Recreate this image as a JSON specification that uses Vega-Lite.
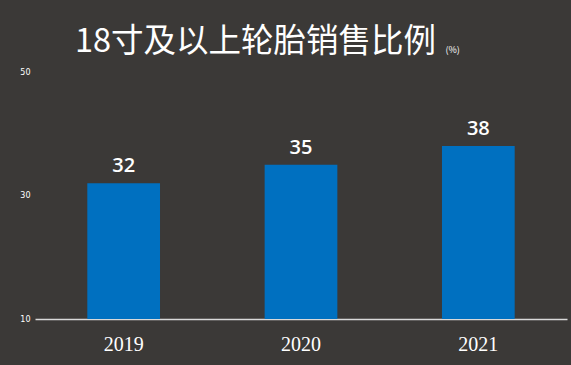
{
  "$schema": "https://vega.github.io/schema/vega-lite/v6.json",
  "autosize": {"type": "none"},
  "width": 532,
  "height": 247,
  "padding": {"left": 35, "top": 72, "right": 4, "bottom": 46},
  "background": "#3b3937",
  "title": {
    "text": "18寸及以上轮胎销售比例",
    "anchor": "start",
    "frame": "group",
    "dx": 40,
    "offset": -13,
    "font": "Noto Sans CJK SC",
    "fontSize": 32.5,
    "fontWeight": "normal",
    "color": "#ffffff"
  },
  "data": {
    "values": [
      {"year": "2019", "value": 32},
      {"year": "2020", "value": 35},
      {"year": "2021", "value": 38}
    ]
  },
  "encoding": {
    "x": {
      "field": "year",
      "type": "nominal",
      "sort": null,
      "scale": {"paddingInner": 0.59, "paddingOuter": 0.295},
      "axis": {
        "title": null,
        "labelAngle": 0,
        "ticks": false,
        "domain": true,
        "domainColor": "#d9d9d9",
        "domainWidth": 1.5,
        "labelFont": "Liberation Serif",
        "labelFontSize": 20,
        "labelColor": "#ffffff",
        "labelPadding": 15
      }
    },
    "y": {
      "field": "value",
      "type": "quantitative",
      "scale": {"domain": [10, 50], "zero": false, "nice": false},
      "axis": {
        "title": "(%)",
        "titleAngle": 0,
        "titleX": 410,
        "titleY": -20,
        "titleAlign": "left",
        "titleBaseline": "alphabetic",
        "titleFont": "Noto Sans CJK SC",
        "titleFontSize": 9,
        "titleFontWeight": "normal",
        "titleColor": "#ffffff",
        "values": [10, 30, 50],
        "ticks": false,
        "domain": false,
        "grid": false,
        "labelFont": "DejaVu Sans",
        "labelFontSize": 8,
        "labelColor": "#ffffff",
        "labelPadding": 5
      }
    }
  },
  "layer": [
    {
      "mark": {"type": "bar", "color": "#0070c0"},
      "encoding": {"y2": {"datum": 10}}
    },
    {
      "mark": {
        "type": "text",
        "baseline": "bottom",
        "dy": -7,
        "font": "Open Sans",
        "fontSize": 20,
        "fontWeight": 600,
        "color": "#ffffff"
      },
      "encoding": {"text": {"field": "value", "type": "quantitative"}}
    }
  ],
  "config": {"view": {"stroke": null}}
}
